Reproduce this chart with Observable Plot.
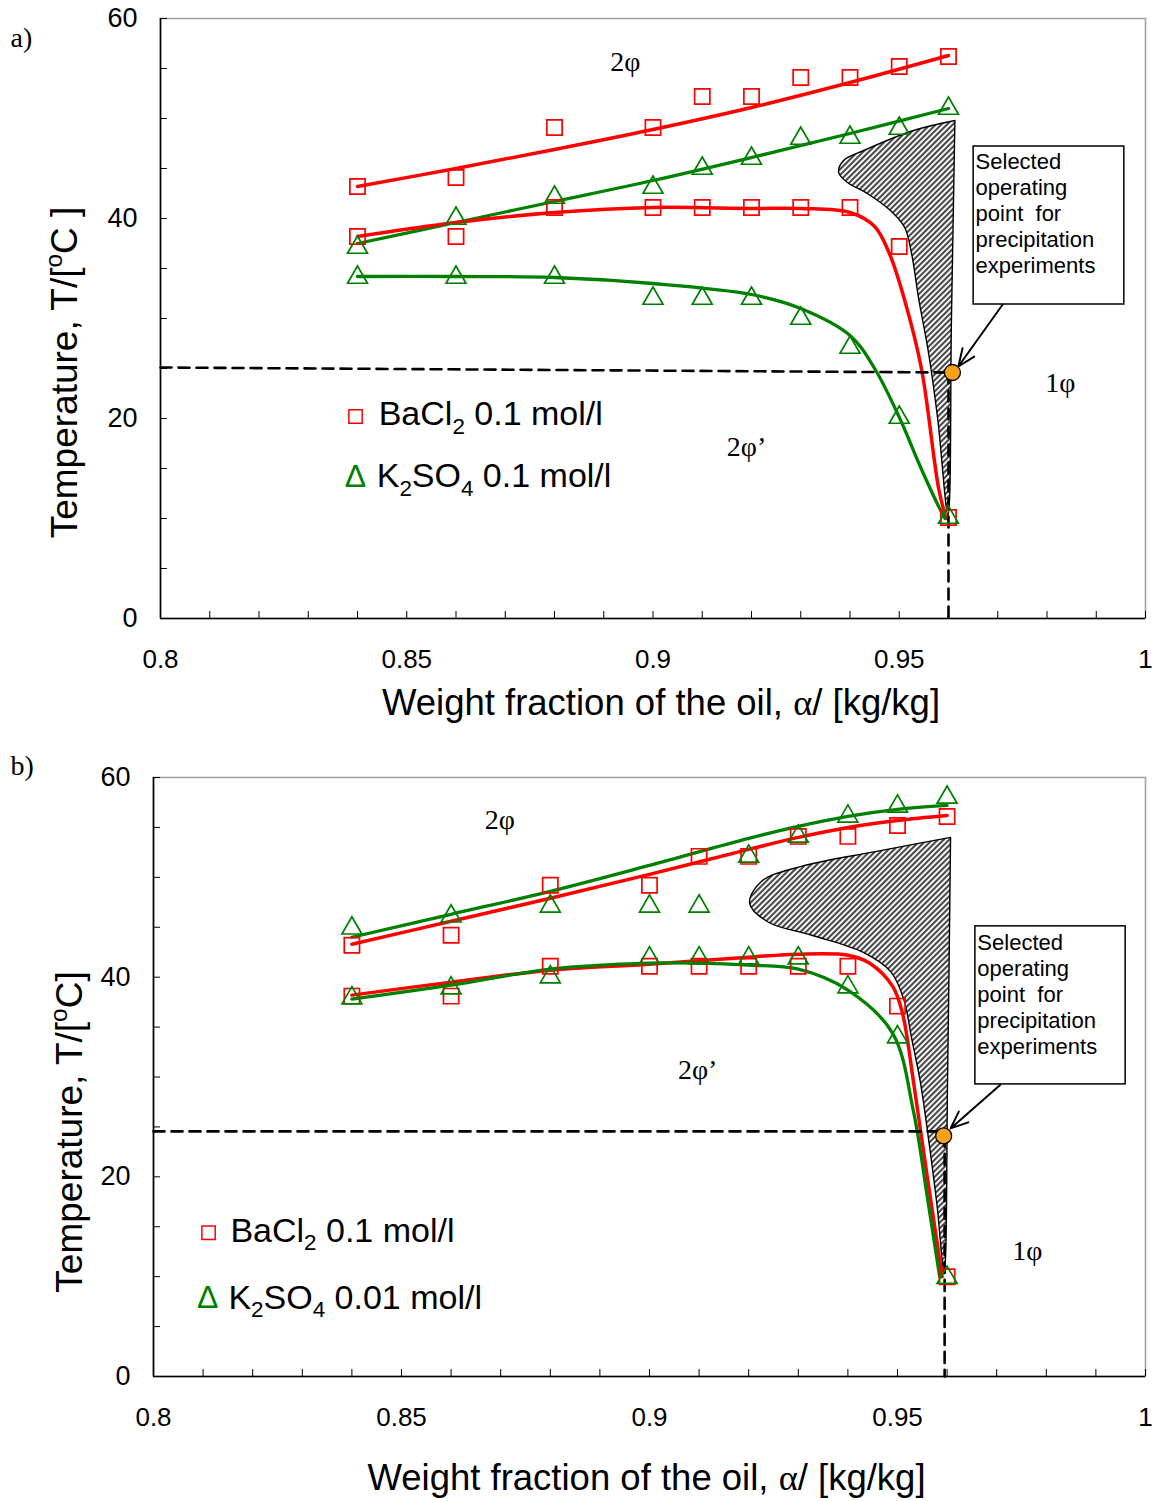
<!DOCTYPE html>
<html><head><meta charset="utf-8">
<script src="https://cdn.jsdelivr.net/npm/d3@7"></script>
<script src="https://cdn.jsdelivr.net/npm/@observablehq/plot@0.6"></script>
<style>
body{margin:0;background:#fff;}
#wrap{position:relative;width:1156px;height:1501px;overflow:hidden;background:#fff;}
.panel{position:absolute;left:0;}
.panel svg{display:block;}
</style></head><body><div id="wrap"><div class="panel" id="pa" style="top:0px"></div><div class="panel" id="pb" style="top:740px"></div></div>
<script>
// ---------- shared categories ----------
const alpha = [0.84,0.86,0.88,0.90,0.91,0.92,0.93,0.94,0.95,0.96];
const xTickLabels = [0.8,0.85,0.9,0.95,1];
const yTickLabels = [0,20,40,60];

// ---------- panel a: measured points ----------
const baUpperA = [43.2,44.1,49.1,49.1,52.2,52.2,54.1,54.1,55.2,56.2];
const baLowerA = [38.2,38.2,41.1,41.1,41.1,41.1,41.1,41.1,37.2,10.1];
const kUpperA  = [37.1,40.0,42.1,43.1,45.0,46.0,48.0,48.1,49.0,51.0];
const kLowerA  = [34.1,34.1,34.1,32.0,32.0,32.0,30.0,27.1,20.1,10.1];
// panel a: fitted curves
const upperFitAlphaA = [0.84,0.86,0.88,0.90,0.92,0.94,0.96];
const baUpperFitA = [43.2,45.0,46.9,48.9,51.1,53.6,56.3];
const kUpperFitA  = [37.5,39.6,41.7,43.8,46.1,48.5,51.0];
const baLowerFitAlphaA = [0.84,0.86,0.88,0.90,0.92,0.93,0.94,0.945,0.948,0.951,0.9545,0.958,0.9595];
const baLowerFitA = [38.2,39.6,40.6,41.1,41.0,41.0,40.6,39.2,36.5,32.0,25.0,13.0,10.0];
const kLowerFitAlphaA = [0.84,0.86,0.88,0.90,0.92,0.93,0.94,0.945,0.9503,0.954,0.958,0.9593];
const kLowerFitA = [34.2,34.2,34.1,33.5,32.4,31.0,28.3,25.0,19.8,15.5,11.2,10.0];
// panel a: hatched region outline
const hatchAlphaA = [0.9613,0.9606,0.9599,0.9578,0.9558,0.9540,0.9525,0.9511,0.9482,0.9435,0.9395,0.9377,0.9387,0.9428,0.9529,0.9613];
const hatchTA     = [49.8,30.0,10.3,20.0,27.0,31.8,36.5,39.1,40.8,42.5,43.6,44.6,45.8,46.8,48.8,49.8];

// ---------- panel b: measured points ----------
const baUpperB = [43.2,44.2,49.2,49.2,52.1,52.1,54.1,54.1,55.2,56.1];
const baLowerB = [38.1,38.1,41.1,41.1,41.1,41.1,41.1,41.1,37.1,10.0];
const kUpperB  = [44.9,46.1,47.1,47.1,47.1,52.1,54.1,56.1,57.1,58.0];
const kLowerB  = [37.9,38.9,40.0,41.9,41.9,41.9,41.9,39.0,34.0,9.9];
// panel b: fitted curves
const upperFitAlphaB = [0.84,0.86,0.88,0.90,0.92,0.93,0.94,0.95,0.96];
const baUpperFitB = [43.3,45.6,47.9,50.3,52.8,54.0,55.0,55.7,56.2];
const kUpperFitB  = [44.0,46.3,48.6,51.2,53.9,55.1,56.1,56.8,57.2];
const baLowerFitAlphaB = [0.84,0.86,0.88,0.90,0.92,0.93,0.94,0.9444,0.949,0.951,0.9532,0.956,0.959];
const baLowerFitB = [38.2,39.5,40.7,41.3,42.0,42.3,42.2,41.4,39.1,36.4,29.6,20.0,10.0];
const kLowerFitAlphaB = [0.84,0.86,0.88,0.90,0.91,0.92,0.93,0.94,0.949,0.9532,0.956,0.9585];
const kLowerFitB = [37.8,39.2,40.8,41.4,41.4,41.2,40.8,38.7,34.4,26.6,18.0,10.0];
// panel b: hatched region outline
const hatchAlphaB = [0.9607,0.9601,0.9594,0.9580,0.9562,0.9546,0.9528,0.9513,0.9487,0.9430,0.9327,0.9240,0.9202,0.9226,0.9306,0.9458,0.9607];
const hatchTB     = [54.0,30.0,10.3,17.0,24.0,29.5,34.0,37.7,40.5,42.5,44.2,45.5,47.4,49.6,51.1,52.6,54.0];

// ---------- texts ----------
const legendLabelsA = ["BaCl_2 0.1 mol/l","K_2SO_4 0.1 mol/l"];
const legendLabelsB = ["BaCl_2 0.1 mol/l","K_2SO_4 0.01 mol/l"];
const phaseLabels = ["2φ","2φ’","1φ"];
const boxText = "Selected\noperating\npoint\u00a0 for\nprecipitation\nexperiments";
const xTitle = "Weight fraction of the oil, ~α~/ [kg/kg]";
const yTitleA = "Temperature, T/[^oC ]";
const yTitleB = "Temperature, T/[^oC]";

const RED = "#ff0000", GREEN = "#008000", ORANGE = "#f9a11b";
const SERIF = "'Liberation Serif','Times New Roman',serif";
const SANS = "'Liberation Sans',Arial,Helvetica,sans-serif";

const rows = (xs, ys) => xs.map((a, i) => ({a, T: ys[i]}));

function panel(c) {
  const squares = [...rows(alpha, c.baUpper), ...rows(alpha, c.baLower)];
  const triangles = [...rows(alpha, c.kUpper), ...rows(alpha, c.kLower)];
  const plot = Plot.plot({
    width: 1156, height: c.height,
    marginLeft: c.ml, marginRight: 11, marginTop: c.mt, marginBottom: c.mb,
    x: {domain: [0.8, 1], label: null},
    y: {domain: [0, 60], label: null},
    style: {fontFamily: SANS, color: "black", background: "white", overflow: "visible"},
    marks: [
      Plot.frame({stroke: "#a3a3a3", strokeWidth: 1.6}),
      Plot.line(rows(c.hatchAlpha, c.hatchT), {x: "a", y: "T", curve: "catmull-rom", fill: `url(#${c.id}-hatch)`, stroke: "black", strokeWidth: 1.4}),
      Plot.line(rows(c.upperFitAlpha, c.baUpperFit), {x: "a", y: "T", curve: "catmull-rom", stroke: RED, strokeWidth: 3.5}),
      Plot.line(rows(c.upperFitAlpha, c.kUpperFit), {x: "a", y: "T", curve: "catmull-rom", stroke: GREEN, strokeWidth: 3.3}),
      Plot.line(rows(c.baLowerFitAlpha, c.baLowerFit), {x: "a", y: "T", curve: "catmull-rom", stroke: RED, strokeWidth: 3.5}),
      Plot.line(rows(c.kLowerFitAlpha, c.kLowerFit), {x: "a", y: "T", curve: "catmull-rom", stroke: GREEN, strokeWidth: 3.3}),
      Plot.line(rows(c.dashH.a, c.dashH.T), {x: "a", y: "T", stroke: "black", strokeWidth: 2.6, strokeDasharray: "11,7"}),
      Plot.line(rows(c.dashV.a, c.dashV.T), {x: "a", y: "T", stroke: "black", strokeWidth: 2.6, strokeDasharray: "11,7"}),
      Plot.dot(squares, {x: "a", y: "T", symbol: "square", r: 8.6, stroke: RED, strokeWidth: 1.7, fill: "none"}),
      Plot.dot(triangles, {x: "a", y: "T", symbol: "triangle", r: 7.4, stroke: GREEN, strokeWidth: 1.7, fill: "none"}),
      // axes
      Plot.axisX(d3.range(80, 101).map(d => d / 100), {tickSize: -7, tickFormat: () => "", label: null}),
      Plot.axisX(xTickLabels, {tickSize: 0, tickPadding: 31, fontSize: 26, tickFormat: d => String(+d.toFixed(2)), label: null}),
      Plot.axisY(d3.range(0, 61, 5), {tickSize: -7, tickFormat: () => "", label: null}),
      Plot.axisY(yTickLabels, {tickSize: 0, tickPadding: 23, fontSize: 27, label: null}),
      Plot.ruleX([0.8], {stroke: "black", strokeWidth: 1.6}),
      Plot.ruleY([0], {stroke: "black", strokeWidth: 1.6}),
      // annotation box + arrow + operating point
      Plot.rect([c.box], {x1: "x1", x2: "x2", y1: "y1", y2: "y2", fill: "white", stroke: "black", strokeWidth: 1.5}),
      Plot.text([c.box], {x: "tx", y: "ty", text: () => boxText, textAnchor: "start", lineAnchor: "top", fontSize: 22, lineHeight: 1.18}),
      Plot.arrow([c.arrow], {x1: "x1", y1: "y1", x2: "x2", y2: "y2", stroke: "black", strokeWidth: 2, headLength: 14, headAngle: 45}),
      Plot.dot([c.op], {x: "a", y: "T", r: 8, fill: ORANGE, stroke: "black", strokeWidth: 1.3}),
      // phase labels
      Plot.text(c.phases, {x: "a", y: "T", text: "label", fontFamily: SERIF, fontSize: 28}),
      // legend
      Plot.dot([c.legSquare], {x: "a", y: "T", symbol: "square", r: 7.5, stroke: RED, strokeWidth: 1.5, fill: "none"}),
      Plot.text([c.legTri], {x: "a", y: "T", text: () => "Δ", fill: GREEN, fontSize: 32}),
      Plot.text(c.legend, {x: "a", y: "T", text: "label", textAnchor: "start", fontSize: 34}),
      // titles
      Plot.text([xTitle], {frameAnchor: "bottom", dx: c.xTitleDx, dy: c.xTitleDy, textAnchor: "middle", lineAnchor: "middle", fontSize: 36.5}),
      Plot.text([c.yTitle], {frameAnchor: "left", rotate: -90, dx: c.yTitleDx, dy: c.yTitleDy, textAnchor: "middle", lineAnchor: "middle", fontSize: 37}),
      Plot.text([c.tag], {frameAnchor: "top-left", dx: c.tagDx, dy: c.tagDy, textAnchor: "start", lineAnchor: "middle", fontFamily: SERIF, fontSize: 28})
    ]
  });
  d3.select(plot).insert("defs", ":first-child").html(
    `<pattern id="${c.id}-hatch" patternUnits="userSpaceOnUse" width="4" height="4" patternTransform="rotate(45)">
       <rect width="4" height="4" fill="#f4f4f4"/>
       <line x1="1" y1="0" x2="1" y2="4" stroke="#2a2a2a" stroke-width="1.7"/>
     </pattern>`);
  return plot;
}

function parseRich(s) {
  const out = []; let i = 0, buf = "";
  const flush = () => { if (buf) { out.push({t: buf, k: "n"}); buf = ""; } };
  while (i < s.length) {
    const ch = s[i];
    if (ch === "_" || ch === "^") { flush(); out.push({t: s[i + 1], k: ch === "_" ? "sub" : "sup"}); i += 2; }
    else if (ch === "~") { flush(); const j = s.indexOf("~", i + 1); out.push({t: s.slice(i + 1, j), k: "serif"}); i = j + 1; }
    else { buf += ch; i++; }
  }
  flush();
  return out;
}

function richify(svg) {
  d3.select(svg).selectAll("text").each(function () {
    const el = this;
    if (el.querySelector("tspan")) return;
    const s = el.textContent;
    if (!/[_^~]/.test(s)) return;
    const fs = parseFloat(getComputedStyle(el).fontSize) || 30;
    const segs = parseRich(s);
    el.textContent = "";
    let shift = 0;
    for (const seg of segs) {
      const ts = document.createElementNS("http://www.w3.org/2000/svg", "tspan");
      const target = seg.k === "sub" ? 0.26 * fs : seg.k === "sup" ? -0.42 * fs : 0;
      const dy = target - shift; shift = target;
      if (dy) ts.setAttribute("dy", dy.toFixed(2));
      if (seg.k === "sub" || seg.k === "sup") ts.setAttribute("font-size", (0.66 * fs).toFixed(1));
      if (seg.k === "serif") ts.setAttribute("font-family", SERIF);
      ts.textContent = seg.t;
      el.appendChild(ts);
    }
  });
}

const cfgA = {
  id: "pa", height: 740, ml: 160, mt: 18, mb: 122,
  baUpper: baUpperA, baLower: baLowerA, kUpper: kUpperA, kLower: kLowerA,
  upperFitAlpha: upperFitAlphaA, baUpperFit: baUpperFitA, kUpperFit: kUpperFitA,
  baLowerFitAlpha: baLowerFitAlphaA, baLowerFit: baLowerFitA,
  kLowerFitAlpha: kLowerFitAlphaA, kLowerFit: kLowerFitA,
  hatchAlpha: hatchAlphaA, hatchT: hatchTA,
  dashH: {a: [0.8, 0.9605], T: [25.1, 24.6]},
  dashV: {a: [0.96, 0.96], T: [24.6, 0]},
  op: {a: 0.9608, T: 24.6},
  box: {x1: 0.9651, x2: 0.9957, y1: 31.4, y2: 47.2, tx: 0.9655, ty: 46.8},
  arrow: {x1: 0.9710, y1: 31.4, x2: 0.9620, y2: 25.2},
  phases: [{label: phaseLabels[0], a: 0.8944, T: 55.6}, {label: phaseLabels[1], a: 0.919, T: 17.1}, {label: phaseLabels[2], a: 0.9827, T: 23.5}],
  legSquare: {a: 0.8396, T: 20.2},
  legTri: {a: 0.8396, T: 14.2},
  legend: [{label: legendLabelsA[0], a: 0.8443, T: 20.4}, {label: legendLabelsA[1], a: 0.8439, T: 14.2}],
  xTitleDx: 8, xTitleDy: 85, yTitle: yTitleA, yTitleDx: -95, yTitleDy: 54,
  tag: "a)", tagDx: -150, tagDy: 20
};
const cfgB = {
  id: "pb", height: 761, ml: 153, mt: 37, mb: 125,
  baUpper: baUpperB, baLower: baLowerB, kUpper: kUpperB, kLower: kLowerB,
  upperFitAlpha: upperFitAlphaB, baUpperFit: baUpperFitB, kUpperFit: kUpperFitB,
  baLowerFitAlpha: baLowerFitAlphaB, baLowerFit: baLowerFitB,
  kLowerFitAlpha: kLowerFitAlphaB, kLowerFit: kLowerFitB,
  hatchAlpha: hatchAlphaB, hatchT: hatchTB,
  dashH: {a: [0.8, 0.9593], T: [24.55, 24.55]},
  dashV: {a: [0.9595, 0.9595], T: [24.1, 0]},
  op: {a: 0.9593, T: 24.1},
  box: {x1: 0.9657, x2: 0.9960, y1: 29.26, y2: 45.09, tx: 0.9661, ty: 44.6},
  arrow: {x1: 0.9708, y1: 29.26, x2: 0.9607, y2: 24.85},
  phases: [{label: phaseLabels[0], a: 0.8698, T: 55.7}, {label: phaseLabels[1], a: 0.9097, T: 30.7}, {label: phaseLabels[2], a: 0.9762, T: 12.6}],
  legSquare: {a: 0.8111, T: 14.4},
  legTri: {a: 0.8109, T: 7.9},
  legend: [{label: legendLabelsB[0], a: 0.8155, T: 14.6}, {label: legendLabelsB[1], a: 0.8151, T: 7.9}],
  xTitleDx: -3, xTitleDy: 102, yTitle: yTitleB, yTitleDx: -83, yTitleDy: 55,
  tag: "b)", tagDx: -143, tagDy: -11
};

const svgA = panel(cfgA);
const svgB = panel(cfgB);
document.getElementById("pa").appendChild(svgA);
document.getElementById("pb").appendChild(svgB);
richify(svgA);
richify(svgB);
</script>
</body></html>
